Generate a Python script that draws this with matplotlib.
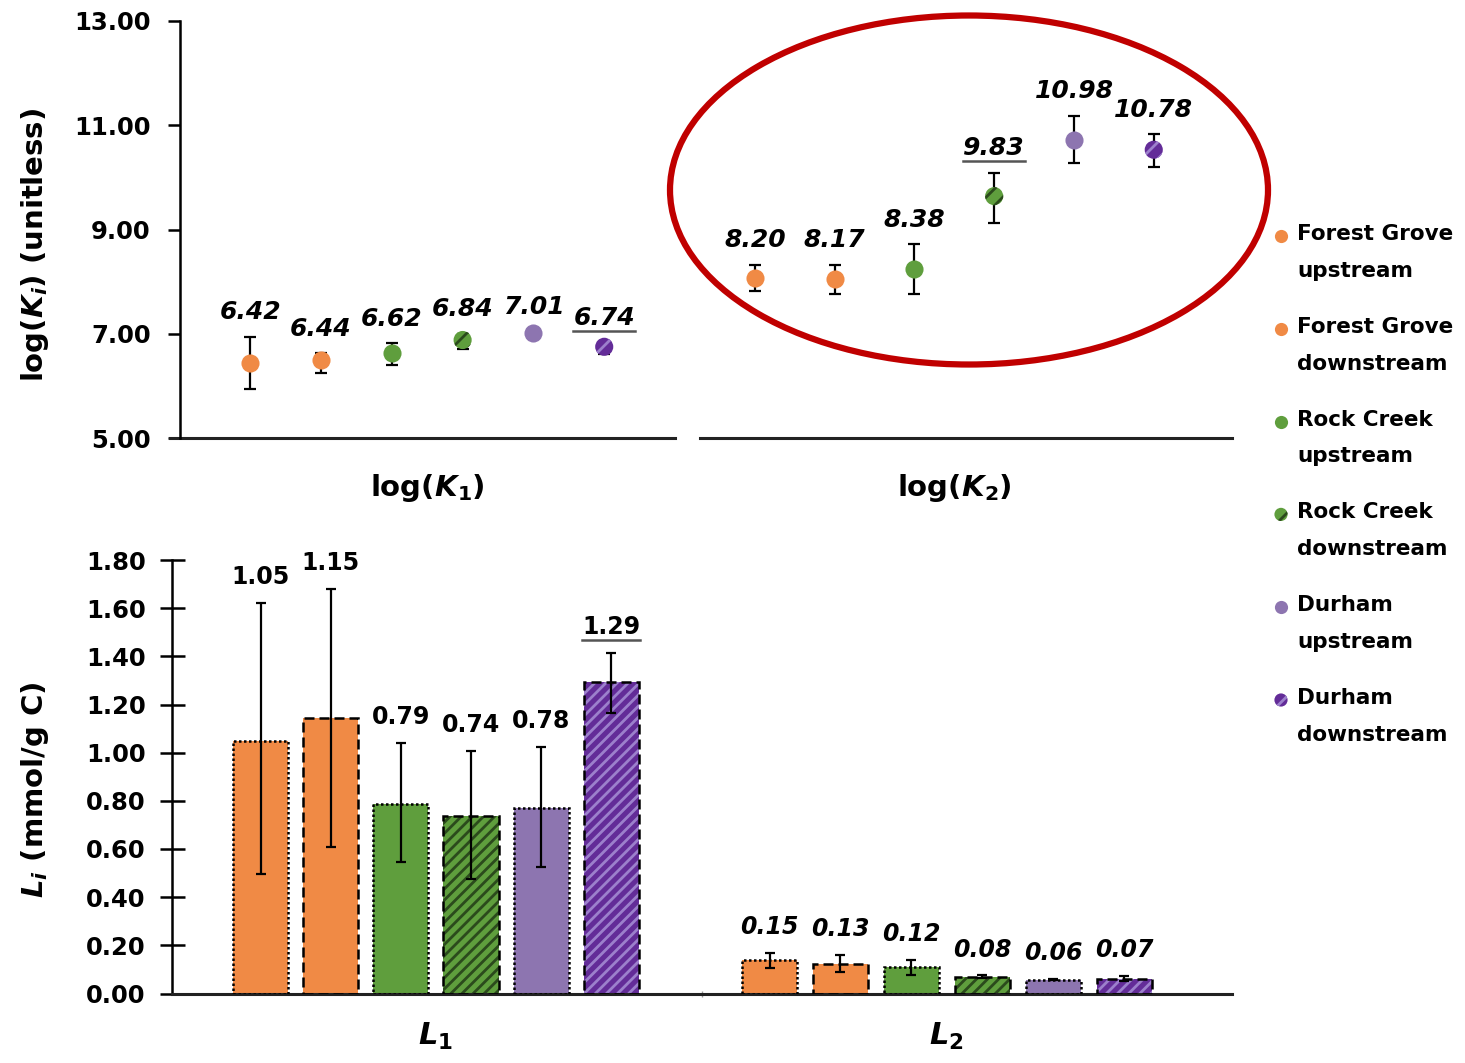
import numpy as np
import matplotlib
matplotlib.use("Agg")
import matplotlib.pyplot as plt
from matplotlib.patches import Ellipse
from matplotlib.lines import Line2D
from matplotlib.transforms import IdentityTransform

plt.rcParams['font.family'] = ['DejaVu Sans']
plt.rcParams['mathtext.fontset'] = 'dejavusans'
plt.rcParams['hatch.linewidth'] = 2.0

# sites / series
sites = ['Forest Grove\nupstream', 'Forest Grove\ndownstream',
         'Rock Creek\nupstream', 'Rock Creek\ndownstream',
         'Durham\nupstream', 'Durham\ndownstream']
face_colors = ['#F08A45', '#F08A45', '#5F9E3D', '#5F9E3D', '#8D75B0', '#632C98']
hatch_colors = [None, None, None, '#2B4A1C', None, '#9C80CC']
edge_styles = [(0, (1, 1)), (0, (4, 2)), (0, (1, 1)), (0, (4, 2)), (0, (1, 1)), (0, (4, 2))]

# top panel: log(K) markers and error bar ends
logk1 = [6.44, 6.50, 6.63, 6.88, 7.02, 6.75]
logk1_hi = [6.94, 6.63, 6.82, 7.00, 7.04, 6.84]
logk1_lo = [5.94, 6.25, 6.40, 6.71, 7.00, 6.61]
logk1_labels = ['6.42', '6.44', '6.62', '6.84', '7.01', '6.74']
logk2 = [8.07, 8.05, 8.24, 9.64, 10.72, 10.53]
logk2_hi = [8.32, 8.32, 8.72, 10.09, 11.18, 10.83]
logk2_lo = [7.82, 7.76, 7.76, 9.13, 10.28, 10.20]
logk2_labels = ['8.20', '8.17', '8.38', '9.83', '10.98', '10.78']

# bottom panel: site capacities L
L1 = [1.05, 1.145, 0.788, 0.738, 0.771, 1.295]
L1_hi = [1.62, 1.68, 1.04, 1.008, 1.025, 1.415]
L1_lo = [0.497, 0.61, 0.546, 0.475, 0.525, 1.166]
L1_labels = ['1.05', '1.15', '0.79', '0.74', '0.78', '1.29']
L2 = [0.140, 0.122, 0.111, 0.070, 0.058, 0.062]
L2_hi = [0.169, 0.160, 0.140, 0.075, 0.061, 0.074]
L2_lo = [0.107, 0.091, 0.078, 0.066, 0.055, 0.050]
L2_labels = ['0.15', '0.13', '0.12', '0.08', '0.06', '0.07']

top_underline = {('k1', 5), ('k2', 3)}
bot_underline = {('l1', 5)}

W, H = 1465, 1063
fig = plt.figure(figsize=(W / 100, H / 100), dpi=100)

# ---------------- top panel ----------------
ax1 = fig.add_axes([180 / W, 1 - 438 / H, (1232 - 180) / W, (438 - 21) / H])
ax1.set_xlim(0, 2)
ax1.set_ylim(5, 13)

underline_texts = []


def draw_points(ax, center, spacing, vals, hi, lo, labels, key):
    offs = (np.arange(6) - 2.5) * spacing + center
    for i in range(6):
        ax.errorbar(offs[i], vals[i], yerr=[[vals[i] - lo[i]], [hi[i] - vals[i]]],
                    fmt='none', ecolor='black', elinewidth=1.6, capsize=4.5,
                    capthick=1.6, zorder=3)
        if hatch_colors[i]:
            ax.scatter(offs[i], vals[i], s=170, color=face_colors[i], hatch='//',
                       edgecolor=hatch_colors[i], linewidths=0, zorder=4)
        else:
            ax.scatter(offs[i], vals[i], s=170, color=face_colors[i], linewidths=0, zorder=4)
        t = ax.annotate(labels[i], (offs[i], hi[i]), xytext=(0, 9), textcoords='offset points',
                        ha='center', va='bottom', fontsize=18, fontweight='bold',
                        fontstyle='italic')
        if (key, i) in top_underline:
            underline_texts.append(t)


draw_points(ax1, 0.470, 0.1346, logk1, logk1_hi, logk1_lo, logk1_labels, 'k1')
draw_points(ax1, 1.472, 0.1517, logk2, logk2_hi, logk2_lo, logk2_labels, 'k2')

ax1.set_yticks([5, 7, 9, 11, 13])
ax1.set_yticklabels(['5.00', '7.00', '9.00', '11.00', '13.00'])
ax1.set_xticks([])
for s in ['top', 'right', 'bottom']:
    ax1.spines[s].set_visible(False)
ax1.spines['left'].set_linewidth(1.8)
ax1.tick_params(axis='y', direction='out', length=9, width=1.8, labelsize=17.5, pad=12)
for lab in ax1.get_yticklabels():
    lab.set_fontweight('bold')
# broken category axis line
ax1.plot([-0.0095, 0.4705], [0, 0], color='#222222', lw=2.2, transform=ax1.transAxes, clip_on=False)
ax1.plot([0.494, 1.0], [0, 0], color='#222222', lw=2.2, transform=ax1.transAxes, clip_on=False)
ax1.text(0.47, -0.12, r'log($\boldsymbol{K}_\boldsymbol{1}$)', transform=ax1.get_xaxis_transform(),
         ha='center', va='center', fontsize=21, fontweight='bold')
ax1.text(1.472, -0.12, r'log($\boldsymbol{K}_\boldsymbol{2}$)', transform=ax1.get_xaxis_transform(),
         ha='center', va='center', fontsize=21, fontweight='bold')
fig.text(35 / W, 1 - 245 / H, r'log($\boldsymbol{K}_\boldsymbol{i}$) (unitless)', rotation=90,
         ha='center', va='center', fontsize=21, fontweight='bold')

# ---------------- bottom panel ----------------
ax2 = fig.add_axes([172 / W, 1 - 993.5 / H, (1232 - 172) / W, (993.5 - 560) / H])
ax2.set_xlim(0, 2)
ax2.set_ylim(0, 1.8)


def draw_bars(ax, center, spacing, vals, hi, lo, labels, key, italic):
    offs = (np.arange(6) - 2.5) * spacing + center
    width = 0.104
    for i in range(6):
        if hatch_colors[i]:
            ax.bar(offs[i], vals[i], width, color=face_colors[i], hatch='///',
                   edgecolor=hatch_colors[i], linewidth=0, zorder=2)
        else:
            ax.bar(offs[i], vals[i], width, color=face_colors[i], linewidth=0, zorder=2)
        ax.bar(offs[i], vals[i], width, fill=False, edgecolor='black', linewidth=1.8,
               linestyle=edge_styles[i], zorder=3)
        ax.errorbar(offs[i], vals[i], yerr=[[vals[i] - lo[i]], [hi[i] - vals[i]]],
                    fmt='none', ecolor='black', elinewidth=1.6, capsize=3.5,
                    capthick=1.6, zorder=4)
        t = ax.annotate(labels[i], (offs[i], hi[i]), xytext=(0, 10), textcoords='offset points',
                        ha='center', va='bottom', fontsize=17, fontweight='bold',
                        fontstyle='italic' if italic else 'normal')
        if (key, i) in bot_underline:
            underline_texts.append(t)


draw_bars(ax2, 0.498, 0.1323, L1, L1_hi, L1_lo, L1_labels, 'l1', False)
draw_bars(ax2, 1.462, 0.1338, L2, L2_hi, L2_lo, L2_labels, 'l2', True)

ax2.set_yticks(np.arange(0, 1.81, 0.2))
ax2.set_yticklabels([f'{v:.2f}' for v in np.arange(0, 1.81, 0.2)])
ax2.set_xticks([1.0])
ax2.set_xticklabels([''])
ax2.tick_params(axis='x', direction='inout', length=5, width=1, color='#999999')
for s in ['top', 'right']:
    ax2.spines[s].set_visible(False)
ax2.spines['left'].set_linewidth(1.8)
ax2.spines['bottom'].set_linewidth(2.2)
ax2.spines['bottom'].set_color('#222222')
ax2.tick_params(axis='y', direction='inout', length=18, width=1.8, labelsize=17.5, pad=10)
for lab in ax2.get_yticklabels():
    lab.set_fontweight('bold')
ax2.text(0.498, -0.1, r'$\boldsymbol{L}_\boldsymbol{1}$', transform=ax2.get_xaxis_transform(),
         ha='center', va='center', fontsize=22)
ax2.text(1.462, -0.1, r'$\boldsymbol{L}_\boldsymbol{2}$', transform=ax2.get_xaxis_transform(),
         ha='center', va='center', fontsize=22)
fig.text(35 / W, 1 - 790 / H, r'$\boldsymbol{L}_\boldsymbol{i}$ (mmol/g C)', rotation=90,
         ha='center', va='center', fontsize=21, fontweight='bold')

# ---------------- overlay: legend + ellipse (pixel coords) ----------------
lax = fig.add_axes([0, 0, 1, 1], zorder=10)
lax.set_xlim(0, W)
lax.set_ylim(H, 0)
lax.axis('off')
lax.add_patch(Ellipse((969, 190), 598, 349, fill=False, edgecolor='#C00000', linewidth=4.5))

for i, name in enumerate(sites):
    y = 236 + i * 92.8
    if hatch_colors[i]:
        lax.scatter(1281, y, s=90, color=face_colors[i], hatch='//',
                    edgecolor=hatch_colors[i], linewidths=0)
    else:
        lax.scatter(1281, y, s=90, color=face_colors[i], linewidths=0)
    lax.text(1297, y - 12, name, ha='left', va='top', fontsize=15.5, fontweight='bold',
             linespacing=2.05)

# underlines beneath highlighted labels
fig.canvas.draw()
for t in underline_texts:
    bb = t.get_window_extent()
    fig.add_artist(Line2D([bb.x0, bb.x1], [bb.y0 - 1, bb.y0 - 1], transform=IdentityTransform(),
                          color='#555555', lw=1.8))

fig.savefig('out.png', dpi=100)
